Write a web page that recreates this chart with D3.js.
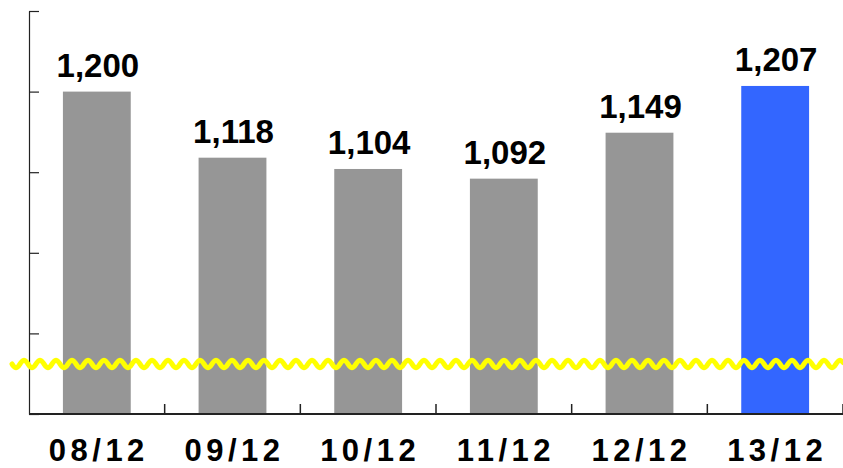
<!DOCTYPE html>
<html>
<head>
<meta charset="utf-8">
<script src="https://cdn.jsdelivr.net/npm/d3@7"></script>
<style>
  html, body { margin: 0; padding: 0; background: #fff; }
  svg { display: block; }
</style>
</head>
<body>
<svg id="chart" width="843" height="468"></svg>
<script>
const categories = ["08/12", "09/12", "10/12", "11/12", "12/12", "13/12"];
const values = [1200, 1118, 1104, 1092, 1149, 1207];
const valueLabels = ["1,200", "1,118", "1,104", "1,092", "1,149", "1,207"];
const yTicks = [800, 900, 1000, 1100, 1200, 1300];
const highlight = "13/12";

const svg = d3.select("#chart");
const mLeft = 29, mRight = 843, mTop = 11, mBottom = 414;

const x = d3.scaleBand().domain(categories).range([mLeft, mRight])
  .paddingInner(0.5).paddingOuter(0.25);
const y = d3.scaleLinear().domain([800, 1300]).range([mBottom, mTop]);

// bars
svg.append("g").selectAll("rect").data(categories).join("rect")
  .attr("x", d => x(d))
  .attr("width", x.bandwidth())
  .attr("y", (d, i) => y(values[i]))
  .attr("height", (d, i) => mBottom - y(values[i]))
  .attr("fill", d => d === highlight ? "#3366ff" : "#969696");

// y axis
const yAxis = svg.append("g").attr("transform", `translate(${mLeft},0)`)
  .call(d3.axisRight(y).tickValues(yTicks).tickSize(10).tickSizeOuter(0).tickFormat(""));
yAxis.select(".domain").attr("stroke", "#222").attr("stroke-width", 1.2);
yAxis.selectAll(".tick line").attr("stroke", "#222").attr("stroke-width", 1.2);

// x axis baseline and boundary ticks
const step = x.step();
const xg = svg.append("g");
xg.append("line").attr("x1", mLeft).attr("x2", mRight).attr("y1", mBottom).attr("y2", mBottom)
  .attr("stroke", "#222").attr("stroke-width", 2);
xg.selectAll("line.tk").data(categories).join("line").attr("class", "tk")
  .attr("x1", d => x(d) + x.bandwidth() + step * x.paddingInner() / 2)
  .attr("x2", d => x(d) + x.bandwidth() + step * x.paddingInner() / 2)
  .attr("y1", mBottom).attr("y2", mBottom - 10)
  .attr("stroke", "#222").attr("stroke-width", 1.5);

// x labels
svg.append("g").selectAll("text").data(categories).join("text")
  .attr("x", d => x(d) + x.bandwidth() / 2 + 2)
  .attr("y", 461)
  .attr("text-anchor", "middle")
  .attr("font-family", "'Liberation Sans', Arial, sans-serif")
  .attr("font-weight", "bold")
  .attr("font-size", 31)
  .attr("letter-spacing", 4.5)
  .attr("fill", "#000")
  .text(d => d);

// value labels
svg.append("g").selectAll("text").data(categories).join("text")
  .attr("x", d => x(d) + x.bandwidth() / 2 + 1)
  .attr("y", (d, i) => y(values[i]) - 15)
  .attr("text-anchor", "middle")
  .attr("font-family", "'Liberation Sans', Arial, sans-serif")
  .attr("font-weight", "bold")
  .attr("font-size", 33)
  .attr("fill", "#000")
  .text((d, i) => valueLabels[i]);

// axis break wave
const waveY = 364, amp = 3.8, period = 16;
const pts = d3.range(12, 844, 1).map(px => [px, waveY + amp * Math.sin((px - 12) / period * 2 * Math.PI)]);
svg.append("path")
  .attr("d", d3.line().curve(d3.curveBasis)(pts))
  .attr("fill", "none")
  .attr("stroke", "#ffff00")
  .attr("stroke-width", 5)
  .attr("stroke-linecap", "round");
</script>
</body>
</html>
